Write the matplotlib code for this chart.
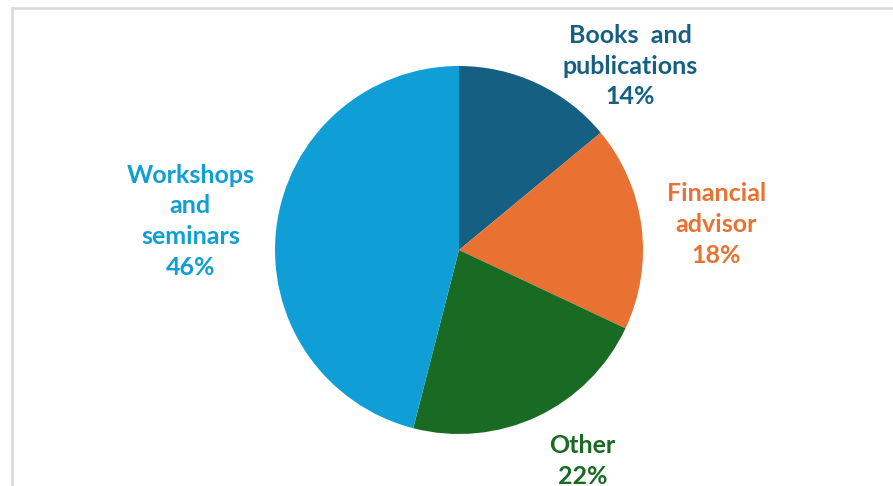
import matplotlib.pyplot as plt
from matplotlib.lines import Line2D

labels = ['Books  and\npublications', 'Financial\nadvisor', 'Other', 'Workshops\nand\nseminars']
shares = [14, 18, 22, 46]
colors = ['#156082', '#E97132', '#196B24', '#0F9ED5']
# label centres, in pie radii from the centre
label_pos = [(0.93, 1.0), (1.40, 0.14), (0.67, -1.145), (-1.46, 0.155)]

W, H = 893, 486
cx, cy, r = 459, 250, 184

fig = plt.figure(figsize=(W / 100, H / 100), dpi=100)
ax = fig.add_axes([0, 0, 1, 1])

ax.pie(shares, colors=colors, startangle=90, counterclock=False, radius=1,
       wedgeprops=dict(linewidth=0))

ax.set_aspect('auto')
ax.set_xlim(-cx / r, (W - cx) / r)
ax.set_ylim(-(H - cy) / r, cy / r)
ax.axis('off')

for lab, val, col, (x, y) in zip(labels, shares, colors, label_pos):
    ax.text(x, y, f'{lab}\n{val}%', color=col, ha='center', va='center',
            fontsize=18, fontweight='bold', family='Lato', linespacing=1.42)

# light frame along the top and left
fig.add_artist(Line2D([12 / W, 1], [1 - 8 / H, 1 - 8 / H], color='#d9d9d9', lw=1.8,
                      transform=fig.transFigure))
fig.add_artist(Line2D([12 / W, 12 / W], [0, 1 - 8 / H], color='#d9d9d9', lw=1.8,
                      transform=fig.transFigure))

fig.savefig('out.png', dpi=100)
